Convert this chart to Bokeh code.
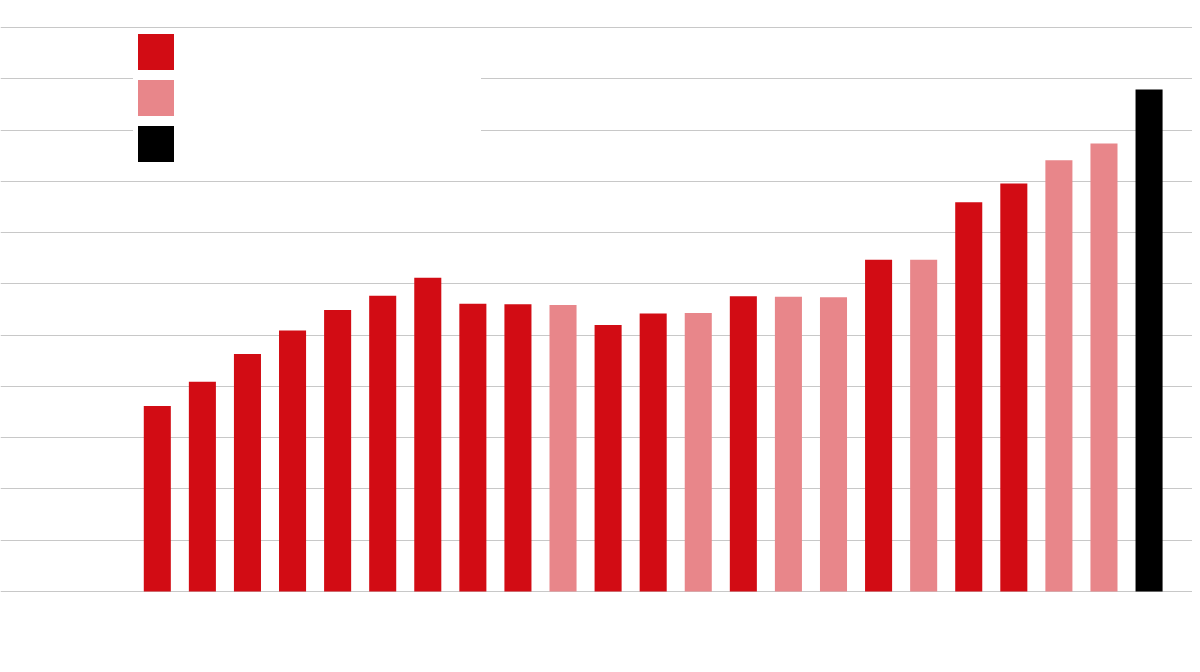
from bokeh.plotting import figure
from bokeh.models import ColumnDataSource, Legend, LegendItem, Range1d, FixedTicker
from bokeh.embed import file_html
from bokeh.resources import INLINE

# ---- data (no visible labels in the original) ----
positions = list(range(1, 24))
values = [36.2, 40.9, 46.3, 50.9, 54.9, 57.7, 61.2, 56.1, 56.0, 55.9,
          52.0, 54.2, 54.3, 57.6, 57.5, 57.4, 64.7, 64.7, 75.9, 79.6,
          84.1, 87.4, 97.9]
kinds = [0, 0, 0, 0, 0, 0, 0, 0, 0, 1,
         0, 0, 1, 0, 1, 1, 0, 1, 0, 0,
         1, 1, 2]
kind_colors = ["#D20C14", "#E8868A", "#000000"]
y_ticks = [0, 10, 20, 30, 40, 50, 60, 70, 80, 90, 100, 110]

p = figure(width=1192, height=664, output_backend="svg", toolbar_location=None,
           x_range=Range1d(-2.4783, 23.9636), y_range=Range1d(-0.2, 110.2),
           min_border_left=0, min_border_right=0, min_border_top=26, min_border_bottom=72)
p.outline_line_color = None
p.background_fill_color = "white"
p.border_fill_color = "white"
p.xaxis.visible = False
p.yaxis.visible = False
p.xgrid.visible = False
p.ygrid.ticker = FixedTicker(ticks=y_ticks)
p.ygrid.grid_line_color = "#c8c8c8"
p.ygrid.grid_line_width = 1

renderers = []
for k, col in enumerate(kind_colors):
    xs = [x for x, kk in zip(positions, kinds) if kk == k]
    ys = [v for v, kk in zip(values, kinds) if kk == k]
    src = ColumnDataSource(dict(x=xs, top=ys))
    r = p.vbar(x="x", top="top", bottom=0, width=0.6, source=src,
               fill_color=col, line_color=None)
    renderers.append(r)

legend = Legend(items=[LegendItem(label=" ", renderers=[r]) for r in renderers],
                location=(133, 426), orientation="vertical",
                glyph_width=45, glyph_height=45, label_height=45,
                label_width=298, label_standoff=5, spacing=1, padding=2, margin=0,
                background_fill_color="white", background_fill_alpha=1.0,
                border_line_color=None, label_text_font_size="1px")
p.add_layout(legend, "center")

open("out.html", "w").write(file_html(p, INLINE))
